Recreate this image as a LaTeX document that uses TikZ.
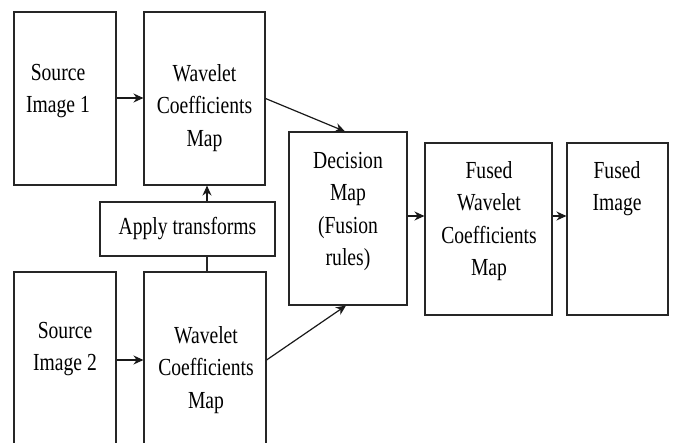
\documentclass[tikz,border=0pt]{standalone}
\usepackage{fontspec}
\setmainfont{Liberation Serif}[FakeStretch=0.8]
\usetikzlibrary{arrows.meta}
\begin{document}
\begin{tikzpicture}[x=1pt,y=-1pt,
  box/.style={draw=black!85,line width=1.1pt,inner sep=0pt,rectangle},
  lbl/.style={align=center,inner sep=0pt,font=\fontsize{24.5}{32.5}\selectfont,text=black},
  arr/.style={draw=black!90,line width=1.2pt,-{Stealth[length=10pt,width=9pt]}},
  ln/.style={draw=black!85,line width=1.1pt}]
\useasboundingbox (0,0) rectangle (674,442);
\fill[white] (0,0) rectangle (674,442);
\clip (0,0) rectangle (674,442);
% boxes
\node[box,minimum width=102pt,minimum height=173pt] (s1) at (65,98.5) {};
\node[box,minimum width=121pt,minimum height=173pt] (w1) at (204.5,98.5) {};
\node[box,lbl,minimum width=175pt,minimum height=54pt] (ap) at (187.5,229) {Apply transforms};
\node[box,minimum width=102pt,minimum height=198pt] (s2) at (65,371) {};
\node[box,minimum width=122pt,minimum height=198pt] (w2) at (205,371) {};
\node[box,minimum width=118pt,minimum height=173pt] (dm) at (348,218.5) {};
\node[box,minimum width=127pt,minimum height=172pt] (fw) at (488.5,229) {};
\node[box,minimum width=101pt,minimum height=172pt] (fi) at (617.5,229) {};
% labels
\node[lbl,anchor=north] (t1) at (58,64) {Source\\Image 1};
\node[lbl,anchor=north] (t2) at (204.5,64) {Wavelet\\Coefficients\\Map};
\node[lbl,anchor=north] (t3) at (65,322) {Source\\Image 2};
\node[lbl,anchor=north] (t4) at (206,326) {Wavelet\\Coefficients\\Map};
\node[lbl,anchor=north] (t5) at (348,152) {Decision\\Map\\(Fusion\\rules)};
\node[lbl,anchor=north] (t6) at (489,161) {Fused\\Wavelet\\Coefficients\\Map};
\node[lbl,anchor=north] (t7) at (617,161) {Fused\\Image};
% helper coordinates
\coordinate (tx) at (207,0);
\coordinate (r1) at (0,98);
\coordinate (r2) at (0,360);
\coordinate (r3) at (0,216);
\coordinate (d1) at (345,0);
\coordinate (d2) at (346,0);
% connectors
\draw[arr] (s1.east |- r1) -- (w1.west |- r1);
\draw[arr] (s2.east |- r2) -- (w2.west |- r2);
\draw[arr] (ap.north -| tx) -- (w1.south -| tx);
\draw[ln] (w2.north -| tx) -- (ap.south -| tx);
\draw[arr] (w1.east) -- (dm.north -| d1);
\draw[arr] (w2.east |- r2) -- (dm.south -| d2);
\draw[arr] (dm.east |- r3) -- (fw.west |- r3);
\draw[arr] (fw.east |- r3) -- (fi.west |- r3);
\end{tikzpicture}
\end{document}
